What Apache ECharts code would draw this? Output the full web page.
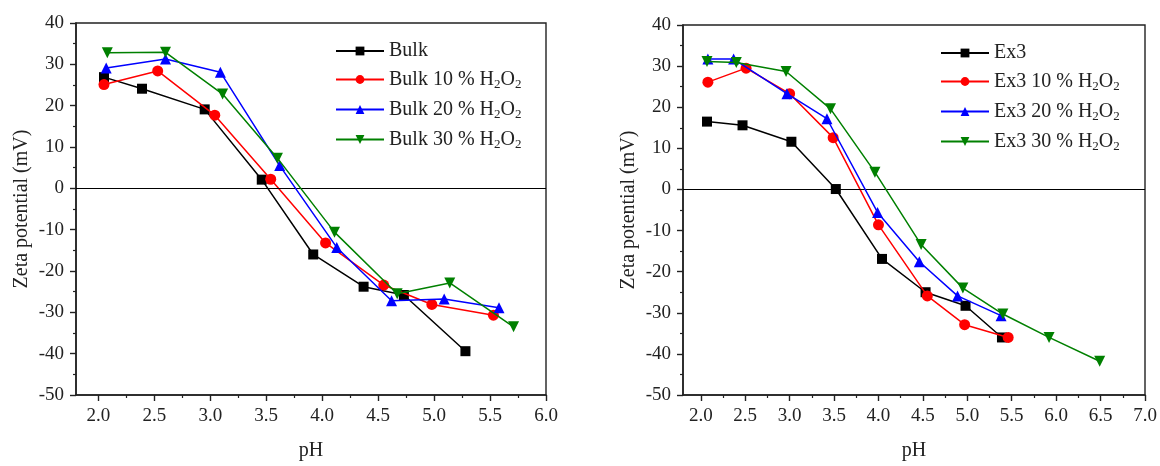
<!DOCTYPE html>
<html><head><meta charset="utf-8">
<script src="https://cdn.jsdelivr.net/npm/echarts@6/dist/echarts.min.js"></script>
<style>html,body{margin:0;padding:0;background:#fff}#c{width:1160px;height:466px}</style>
</head><body><div id="c"></div>
<script>
// ---- data ----
const bulkNames = ['Bulk', 'Bulk 10 % H2O2', 'Bulk 20 % H2O2', 'Bulk 30 % H2O2'];
const bulk   = [[2.05,26.9],[2.39,24.1],[2.95,19.1],[3.46,2.1],[3.92,-16.0],[4.37,-23.8],[4.73,-25.8],[5.28,-39.4]];
const bulk10 = [[2.05,25.1],[2.53,28.4],[3.04,17.7],[3.54,2.2],[4.03,-13.2],[4.55,-23.4],[4.98,-28.1],[5.53,-30.7]];
const bulk20 = [[2.07,29.1],[2.60,31.3],[3.09,28.1],[3.62,5.5],[4.13,-14.3],[4.62,-27.2],[5.09,-26.8],[5.58,-28.9]];
const bulk30 = [[2.08,32.8],[2.60,32.9],[3.11,22.8],[3.60,7.3],[4.11,-10.6],[4.67,-25.5],[5.14,-22.9],[5.71,-33.5]];

const ex3Names = ['Ex3', 'Ex3 10 % H2O2', 'Ex3 20 % H2O2', 'Ex3 30 % H2O2'];
const ex3   = [[2.07,16.5],[2.47,15.6],[3.02,11.6],[3.52,0.1],[4.04,-16.9],[4.53,-25.0],[4.98,-28.3],[5.39,-36.0]];
const ex3_10 = [[2.08,26.1],[2.51,29.5],[3.00,23.3],[3.49,12.6],[4.00,-8.6],[4.55,-25.9],[4.97,-32.9],[5.46,-36.0]];
const ex3_20 = [[2.08,31.7],[2.37,31.7],[2.97,23.3],[3.42,17.2],[3.99,-5.6],[4.46,-17.6],[4.89,-25.9],[5.38,-30.7]];
const ex3_30 = [[2.07,31.1],[2.40,30.9],[2.96,28.7],[3.46,19.6],[3.96,4.2],[4.48,-13.4],[4.95,-24.0],[5.40,-30.3],[5.92,-36.0],[6.49,-41.8]];

const xTicksLeft  = [2.0,2.5,3.0,3.5,4.0,4.5,5.0,5.5,6.0];
const xMinorLeft  = [2.25,2.75,3.25,3.75,4.25,4.75,5.25,5.75];
const xTicksRight = [2.0,2.5,3.0,3.5,4.0,4.5,5.0,5.5,6.0,6.5,7.0];
const xMinorRight = [2.25,2.75,3.25,3.75,4.25,4.75,5.25,5.75,6.25,6.75];
const yMin = -50, yMax = 40, yStep = 10;
const xTitle = 'pH';
const yTitle = 'Zeta potential (mV)';

// ---- styling ----
const FONT = 'Liberation Serif';
const TXT = '#222';
const colors = ['#000000', '#ff0000', '#0000ff', '#008000'];
const symbols = ['rect', 'circle', 'triangle', 'triangle'];
const rotates = [0, 0, 0, 180];
const sizes = [10, 11, 11, 11];

function legendFmt(name) {
  const i = name.indexOf('H2O2');
  if (i < 0) return '{n|' + name + '}';
  return '{n|' + name.slice(0, i) + 'H}{s|2}{n|O}{s|2}';
}

const rich = {
  n: { fontFamily: FONT, fontSize: 20, color: TXT, lineHeight: 24 },
  s: { fontFamily: FONT, fontSize: 13, color: TXT, lineHeight: 24, padding: [10, 0, 0, 0] }
};

function makeX(gridIndex, ticks, minorTicks, max) {
  return [
    {
      type: 'value', gridIndex, position: 'bottom', min: 1.8, max,
      name: xTitle, nameLocation: 'middle', nameGap: 46,
      nameTextStyle: { fontFamily: FONT, fontSize: 20, color: TXT },
      axisLine: { show: true, onZero: false, lineStyle: { color: TXT, width: 1.6 } },
      axisTick: { show: true, customValues: ticks, length: 6, lineStyle: { color: TXT, width: 1.4 } },
      axisLabel: { show: true, customValues: ticks, margin: 12, fontFamily: FONT, fontSize: 19, color: TXT,
                   formatter: v => v.toFixed(1) },
      splitLine: { show: false }
    },
    {
      type: 'value', gridIndex, position: 'bottom', min: 1.8, max,
      axisLine: { show: false, onZero: false },
      axisTick: { show: true, customValues: minorTicks, length: 3, lineStyle: { color: TXT, width: 1.2 } },
      axisLabel: { show: false },
      splitLine: { show: false }
    }
  ];
}

function makeY(gridIndex) {
  return {
    type: 'value', gridIndex, min: yMin, max: yMax, interval: yStep,
    name: yTitle, nameLocation: 'middle', nameGap: 44,
    nameTextStyle: { fontFamily: FONT, fontSize: 20, color: TXT },
    axisLine: { show: true, onZero: false, lineStyle: { color: TXT, width: 1.6 } },
    axisTick: { show: true, length: 6, lineStyle: { color: TXT, width: 1.4 } },
    minorTick: { show: true, splitNumber: 2, length: 3, lineStyle: { color: TXT, width: 1.2 } },
    axisLabel: { margin: 12, fontFamily: FONT, fontSize: 19, color: TXT },
    splitLine: { show: false }, minorSplitLine: { show: false }
  };
}

function makeSeries(names, datas, xAxisIndex, yAxisIndex) {
  return datas.map((d, i) => {
    const s = {
      name: names[i], type: 'line', xAxisIndex, yAxisIndex, data: d,
      symbol: symbols[i], symbolRotate: rotates[i], symbolSize: sizes[i],
      showSymbol: true, z: 3 + i,
      itemStyle: { color: colors[i] },
      lineStyle: { color: colors[i], width: 1.5 }
    };
    if (i === 0) {
      s.markLine = {
        silent: true, symbol: 'none', label: { show: false },
        lineStyle: { color: '#000', width: 1.2, type: 'solid' },
        data: [{ yAxis: 0 }]
      };
    }
    return s;
  });
}

const chart = echarts.init(document.getElementById('c'), null, { renderer: 'canvas' });
chart.setOption({
  backgroundColor: '#fff',
  animation: false,
  grid: [
    { left: 76, right: 614, top: 23, bottom: 66, show: true, borderColor: TXT, borderWidth: 1.4, backgroundColor: 'transparent' },
    { left: 683, right: 15, top: 25, bottom: 69, show: true, borderColor: TXT, borderWidth: 1.4, backgroundColor: 'transparent' }
  ],
  legend: [
    { data: bulkNames, orient: 'vertical', left: 330, top: 36, itemWidth: 48, itemHeight: 11, itemGap: 7,
      formatter: legendFmt, textStyle: { fontFamily: FONT, fontSize: 20, color: TXT, rich } },
    { data: ex3Names, orient: 'vertical', left: 935, top: 38, itemWidth: 48, itemHeight: 11, itemGap: 7,
      formatter: legendFmt, textStyle: { fontFamily: FONT, fontSize: 20, color: TXT, rich } }
  ],
  xAxis: [...makeX(0, xTicksLeft, xMinorLeft, 6.0), ...makeX(1, xTicksRight, xMinorRight, 7.0)],
  yAxis: [makeY(0), makeY(1)],
  series: [
    ...makeSeries(bulkNames, [bulk, bulk10, bulk20, bulk30], 0, 0),
    ...makeSeries(ex3Names, [ex3, ex3_10, ex3_20, ex3_30], 2, 1)
  ]
});
</script>
</body></html>
